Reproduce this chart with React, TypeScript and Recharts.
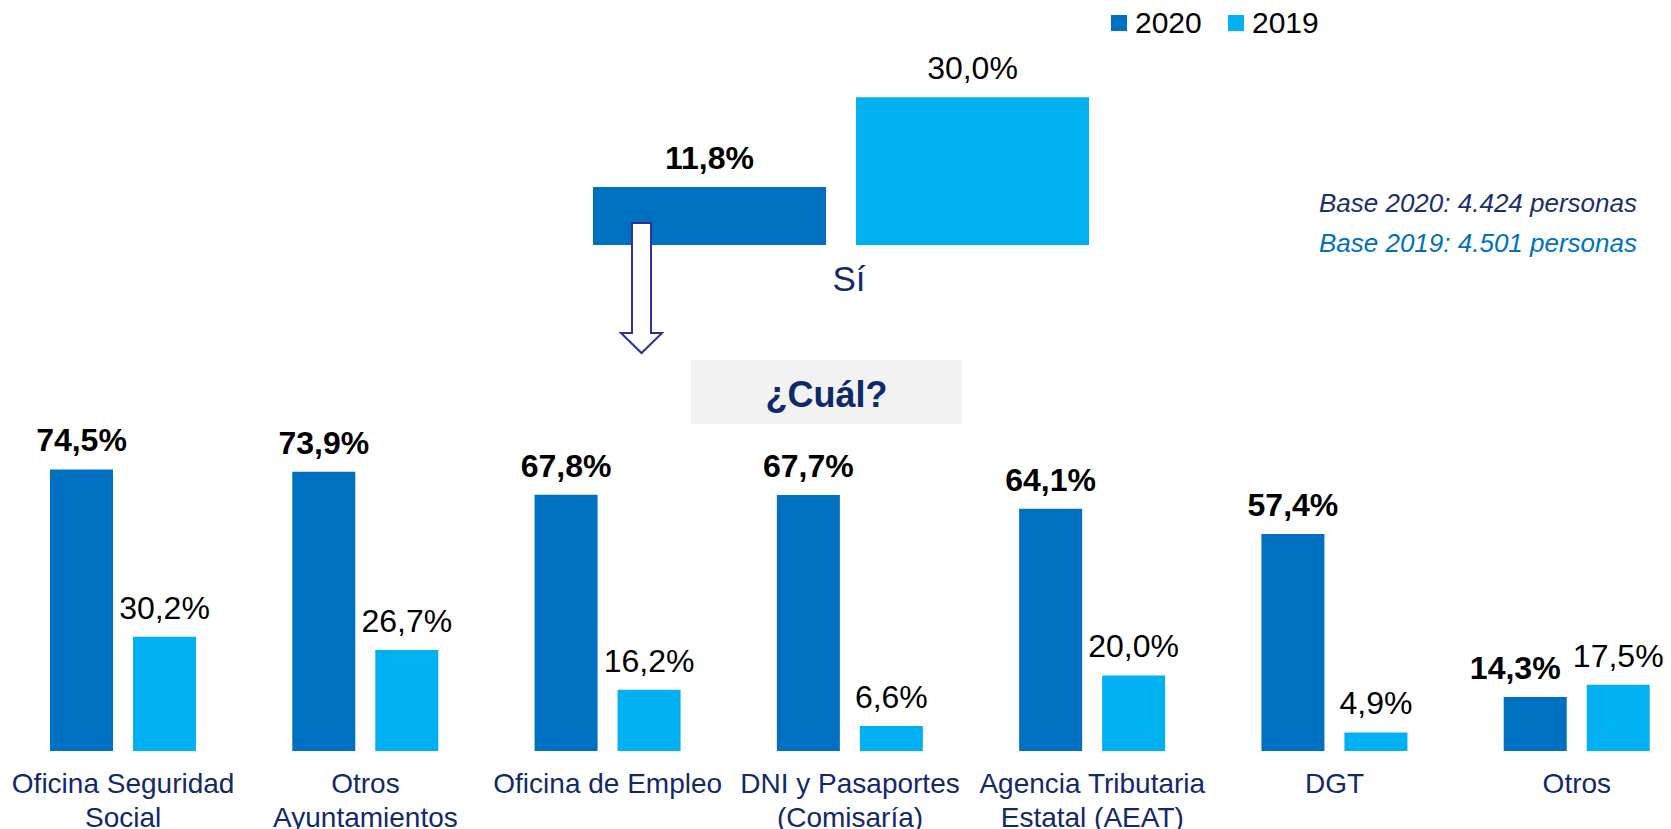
import { BarChart, Bar, XAxis, YAxis, LabelList, Legend } from "recharts";

// top block: share that answered "Sí"
const topCategories = ["Sí"];
const top2020 = [11.8];
const top2019 = [30.0];

// bottom block: "¿Cuál?"
const categories = [
  "Oficina Seguridad\nSocial",
  "Otros\nAyuntamientos",
  "Oficina de Empleo",
  "DNI y Pasaportes\n(Comisaría)",
  "Agencia Tributaria\nEstatal (AEAT)",
  "DGT",
  "Otros",
];
const values2020 = [74.5, 73.9, 67.8, 67.7, 64.1, 57.4, 14.3];
const values2019 = [30.2, 26.7, 16.2, 6.6, 20.0, 4.9, 17.5];

const seriesNames = ["2020", "2019"];
const baseNotes = ["Base 2020: 4.424 personas", "Base 2019: 4.501 personas"];
const question = "¿Cuál?";

const DARK = "#0070C0";
const LIGHT = "#00B0F0";
const NAVY = "#13296B";
const FONT = "'Liberation Sans', Arial, sans-serif";

const pct = (v: number) => v.toFixed(1).replace(".", ",") + "%";

const topData = topCategories.map((name, i) => ({
  name,
  v2020: top2020[i],
  v2019: top2019[i],
}));

const data = categories.map((name, i) => ({
  name,
  v2020: values2020[i],
  v2019: values2019[i],
}));

// value label above each bar; the last bold label is nudged left so it doesn't hit its neighbour
function valueLabel(bold: boolean, lastShift = 0, count = 0) {
  return (props: any) => {
    const { x, y, width, value, index } = props;
    const dx = count && index === count - 1 ? lastShift : 0;
    return (
      <text
        x={Number(x) + Number(width) / 2 + dx}
        y={Number(y) - 18}
        textAnchor="middle"
        fontSize={32}
        fontWeight={bold ? 700 : 400}
        fontFamily={FONT}
        fill="#000"
      >
        {pct(Number(value))}
      </text>
    );
  };
}

const CategoryTick = (props: any) => {
  const { x, y, payload } = props;
  const lines = String(payload.value).split("\n");
  return (
    <text textAnchor="middle" fontSize={28} fontFamily={FONT} fill={NAVY}>
      {lines.map((line, i) => (
        <tspan key={i} x={x} y={y + 42 + i * 34}>
          {line}
        </tspan>
      ))}
    </text>
  );
};

const SiTick = (props: any) => {
  const { x, y, payload } = props;
  return (
    <text x={x + 8} y={y + 46} textAnchor="middle" fontSize={35} fontFamily={FONT} fill={NAVY}>
      {payload.value}
    </text>
  );
};

const LegendContent = (props: any) => {
  const items = [...(props.payload || [])].sort(
    (a: any, b: any) => seriesNames.indexOf(a.value) - seriesNames.indexOf(b.value)
  );
  return (
    <svg width={240} height={40}>
      {items.map((item: any, i: number) => (
        <g key={i} transform={`translate(${i * 117},0)`}>
          <rect x={0} y={15} width={16} height={16} fill={item.color} />
          <text x={24} y={33} fontSize={30} fontFamily={FONT} fill="#000">
            {item.value}
          </text>
        </g>
      ))}
    </svg>
  );
};

export default function App() {
  return (
    <div
      style={{
        position: "absolute",
        left: 0,
        top: 0,
        width: 1671,
        height: 829,
        overflow: "hidden",
        background: "#fff",
        fontFamily: FONT,
      }}
    >
      <div style={{ position: "absolute", left: 341, top: 0 }}>
        <BarChart
          width={1000}
          height={305}
          data={topData}
          margin={{ top: 48, right: 0, bottom: 0, left: 0 }}
          barGap={30}
        >
          <XAxis
            dataKey="name"
            height={60}
            axisLine={false}
            tickLine={false}
            tickSize={0}
            tickMargin={0}
            tick={<SiTick />}
          />
          <YAxis hide domain={[0, 40]} />
          <Legend
            layout="horizontal"
            verticalAlign="middle"
            align="center"
            content={<LegendContent />}
            wrapperStyle={{ left: 770, top: 0, width: 240, height: 40 }}
          />
          <Bar dataKey="v2020" name={seriesNames[0]} fill={DARK} barSize={233} isAnimationActive={false}>
            <LabelList dataKey="v2020" content={valueLabel(true)} />
          </Bar>
          <Bar dataKey="v2019" name={seriesNames[1]} fill={LIGHT} barSize={233} isAnimationActive={false}>
            <LabelList dataKey="v2019" content={valueLabel(false)} />
          </Bar>
        </BarChart>
      </div>

      <div style={{ position: "absolute", left: 0, top: 300 }}>
        <BarChart
          width={1700}
          height={529}
          data={data}
          margin={{ top: 73, right: 2, bottom: 0, left: 2 }}
          barGap={20}
        >
          <XAxis
            dataKey="name"
            height={78}
            axisLine={false}
            tickLine={false}
            tickSize={0}
            tickMargin={0}
            interval={0}
            tick={<CategoryTick />}
          />
          <YAxis hide domain={[0, 100]} />
          <Bar dataKey="v2020" name={seriesNames[0]} fill={DARK} barSize={63} isAnimationActive={false}>
            <LabelList dataKey="v2020" content={valueLabel(true, -20, categories.length)} />
          </Bar>
          <Bar dataKey="v2019" name={seriesNames[1]} fill={LIGHT} barSize={63} isAnimationActive={false}>
            <LabelList dataKey="v2019" content={valueLabel(false)} />
          </Bar>
        </BarChart>
      </div>

      <svg
        width={1671}
        height={829}
        style={{ position: "absolute", left: 0, top: 0, pointerEvents: "none" }}
      >
        <path
          d="M632,223 L651,223 L651,333 L662,333 L641.5,353 L621,333 L632,333 Z"
          fill="#fff"
          stroke="#2E3192"
          strokeWidth={2}
        />
        <rect x={691} y={360} width={271} height={64} fill="#F2F2F2" />
        <text x={826.5} y={406.5} textAnchor="middle" fontSize={36} fontWeight={700} fontFamily={FONT} fill="#0D2A6B">
          {question}
        </text>
        <text x={1637} y={212} textAnchor="end" fontSize={26} fontStyle="italic" fontFamily={FONT} fill="#1B2F6E">
          {baseNotes[0]}
        </text>
        <text x={1637} y={251.5} textAnchor="end" fontSize={26} fontStyle="italic" fontFamily={FONT} fill={DARK}>
          {baseNotes[1]}
        </text>
      </svg>
    </div>
  );
}
